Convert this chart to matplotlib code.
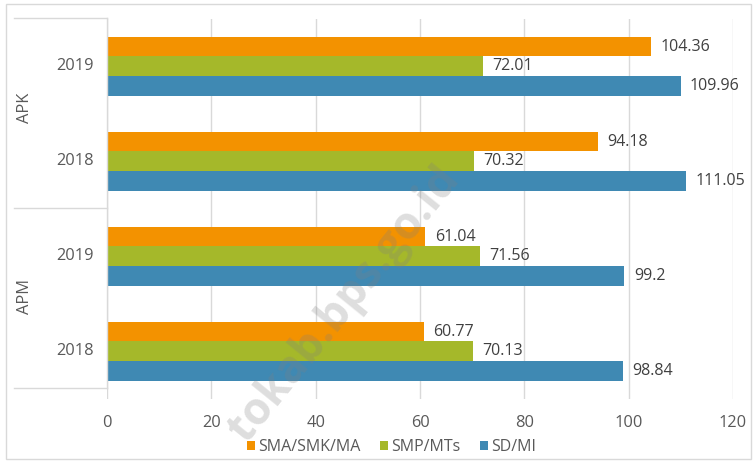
import matplotlib.pyplot as plt
import numpy as np
from matplotlib.patches import Rectangle
from matplotlib.lines import Line2D

# ======= Data =======
groups = ["APK", "APM"]
years = ["2019", "2018", "2019", "2018"]
series = ["SMA/SMK/MA", "SMP/MTs", "SD/MI"]
sma = [104.36, 94.18, 61.04, 60.77]
smp = [72.01, 70.32, 71.56, 70.13]
sd = [109.96, 111.05, 99.2, 98.84]
colors = ["#F39200", "#A5B82A", "#3F89B3"]

plt.rcParams["font.family"] = ["Open Sans", "DejaVu Sans"]

W, H = 756, 462
fig = plt.figure(figsize=(W / 100, H / 100), dpi=100)
# axes w pikselach: x 107..733, y 18.7..398.7
ax = fig.add_axes([107 / W, 1 - 398.7 / H, (733 - 107) / W, (398.7 - 18.7) / H])

pos = np.arange(len(years))
bh = 0.207
for i, (vals, name, c) in enumerate(zip([sma, smp, sd], series, colors)):
    y = pos + (i - 1) * bh
    ax.barh(y, vals, height=bh, color=c, label=name, zorder=2)
    for yy, v in zip(y, vals):
        ax.text(v + 1.8, yy, f"{v:g}", va="center", ha="left",
                fontsize=11.5, color="#404040", zorder=3)

ax.set_xlim(0, 120)
ax.set_ylim(3.5, -0.5)
ax.set_xticks(range(0, 121, 20))
ax.tick_params(axis="x", length=0, labelsize=11.8, labelcolor="#595959", pad=12)
ax.set_yticks([])
ax.grid(axis="x", color="#d9d9d9", linewidth=1, zorder=0)
for s in ax.spines.values():
    s.set_visible(False)

# etykiety lat i grup
for p, yr in zip(pos, years):
    fig.text(75 / W, 1 - (66.2 + 95 * p) / H, yr, ha="center", va="center",
             fontsize=11.8, color="#595959")
for g, yp in zip(groups, [108, 296]):
    fig.text(25 / W, 1 - yp / H, g, rotation=90, ha="center", va="center",
             fontsize=11.8, color="#595959")

# linie ramki etykiet
lc = "#d9d9d9"
for yp in [18.3, 208.3, 388.3]:
    fig.add_artist(Line2D([14 / W, 107 / W], [1 - yp / H, 1 - yp / H], color=lc, lw=1))
fig.add_artist(Line2D([107 / W, 107 / W], [1 - 18.3 / H, 1 - 388.3 / H], color=lc, lw=1))

# ramka zewnetrzna
fig.add_artist(Rectangle((6 / W, 3 / H), 745 / W, 455 / H, fill=False,
                         edgecolor="#d9d9d9", lw=1))

# legenda
fig.legend(loc="center", bbox_to_anchor=(391.5 / W, 1 - 447 / H), ncol=3, frameon=False,
           fontsize=11.5, handlelength=0.5, handleheight=0.5, handletextpad=0.2,
           columnspacing=1.25, labelcolor="#595959")

# znak wodny
fig.text(345 / W, 1 - 305 / H, "tokab.bps.go.id", rotation=51, ha="center",
         va="center", fontsize=32, fontweight="bold", color="#808080", alpha=0.26,
         zorder=10)

fig.savefig("out.png", dpi=100)
